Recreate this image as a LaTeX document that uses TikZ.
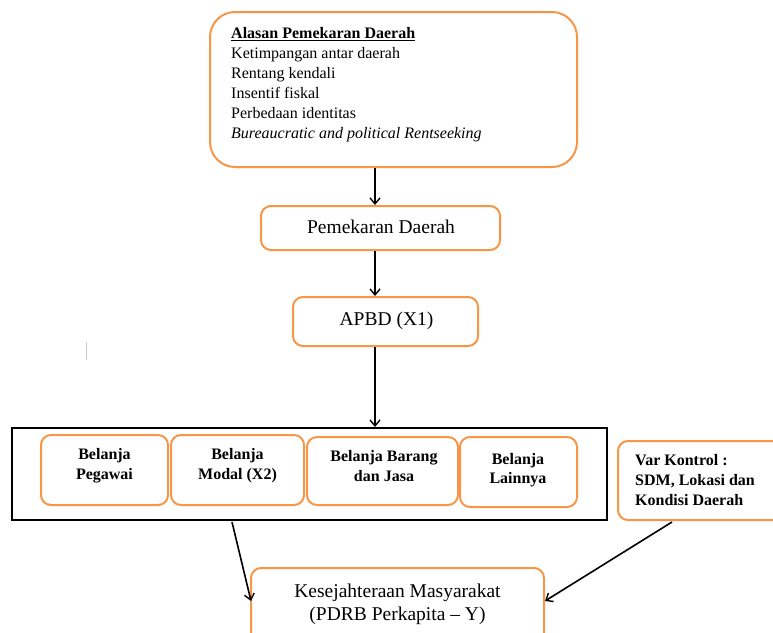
\documentclass[tikz,border=0pt]{standalone}
\usepackage{fontspec}
\setmainfont{Liberation Serif}
\usetikzlibrary{arrows.meta}
\definecolor{orng}{HTML}{F79646}
\tikzset{
  obox/.style={draw=orng, line width=2pt, rounded corners=10pt, inner sep=0pt},
  arr/.style={draw=black, line width=1.6pt, -{Straight Barb[length=6pt,width=10pt,line width=1.4pt]}},
  ln/.style={anchor=base west, inner sep=0pt, font=\fontsize{16}{20}\selectfont},
  bln/.style={anchor=base, inner sep=0pt, font=\fontsize{16}{20}\selectfont\bfseries},
  vln/.style={anchor=base west, inner sep=0pt, font=\fontsize{16}{20}\selectfont\bfseries},
  big/.style={anchor=base, inner sep=0pt, font=\fontsize{19.5}{24}\selectfont},
}
\begin{document}
\begin{tikzpicture}[x=1pt,y=-1pt]
\useasboundingbox (0,0) rectangle (773,632);
\clip (0,0) rectangle (773,632);
% top box
\node[obox, rounded corners=25pt, minimum width=367pt, minimum height=155pt] (alasan) at (393.5,89.5) {};
\node[ln] (a1) at (231,38.5) {\textbf{\underline{Alasan Pemekaran Daerah}}};
\node[ln] (a2) at (231,58.5) {Ketimpangan antar daerah};
\node[ln] (a3) at (231,78.5) {Rentang kendali};
\node[ln] (a4) at (231,98.5) {Insentif fiskal};
\node[ln] (a5) at (231,118.5) {Perbedaan identitas};
\node[ln] (a6) at (231,138.5) {\textit{Bureaucratic and political Rentseeking}};
% pemekaran
\node[obox, minimum width=239pt, minimum height=44pt] (pem) at (380.5,228) {};
\node[big] (pemt) at (381,233.3) {Pemekaran Daerah};
% apbd
\node[obox, minimum width=185pt, minimum height=49pt] (apbd) at (385.5,321.5) {};
\node[big] (apbdt) at (386.5,325) {APBD (X1)};
% black frame
\node[draw=black, line width=2pt, minimum width=595pt, minimum height=92pt, inner sep=0pt] (frame) at (309.5,474) {};
% inner boxes
\node[obox, minimum width=127pt, minimum height=70pt] (peg) at (104.5,470) {};
\node[bln] (peg1) at (104.5,459.3) {Belanja};
\node[bln] (peg2) at (104.5,479.3) {Pegawai};
\node[obox, minimum width=133pt, minimum height=70pt] (mod) at (237.5,470) {};
\node[bln] (mod1) at (237.5,459.3) {Belanja};
\node[bln] (mod2) at (237.5,479.3) {Modal (X2)};
\node[obox, minimum width=151pt, minimum height=68pt] (bar) at (382.5,471) {};
\node[bln] (bar1) at (384,461) {Belanja Barang};
\node[bln] (bar2) at (384,481) {dan Jasa};
\node[obox, minimum width=117pt, minimum height=70pt] (lain) at (518.5,472) {};
\node[bln] (lain1) at (518,464) {Belanja};
\node[bln] (lain2) at (518,483.5) {Lainnya};
% var kontrol
\node[obox, minimum width=175pt, minimum height=79pt] (var) at (705.5,480.5) {};
\node[vln] (v1t) at (635,465) {Var Kontrol :};
\node[vln] (v2t) at (635,485) {SDM, Lokasi dan};
\node[vln] (v3t) at (635,505) {Kondisi Daerah};
% kesejahteraan
\node[obox, minimum width=293pt, minimum height=90pt] (kes) at (397.5,613) {};
\node[big] (kes1) at (397.5,597) {Kesejahteraan Masyarakat};
\node[big] (kes2) at (397.5,620.5) {(PDRB Perkapita -- Y)};
% connectors
\coordinate (f1) at (232,522);
\coordinate (k1) at (251,601);
\coordinate (v1) at (672,522);
\coordinate (k2) at (545,601);
\draw[arr] (alasan.south -| 375,0) -- (pem.north -| 375,0);
\draw[arr] (pem.south -| 375,0) -- (apbd.north -| 375,0);
\draw[arr] (apbd.south -| 375,0) -- (frame.north -| 375,0);
\draw[arr] (f1) -- (k1);
\draw[arr] (v1) -- (k2);
% cursor mark
\draw[gray!40, line width=1pt] (86,342) -- (86,360);
\end{tikzpicture}
\end{document}
